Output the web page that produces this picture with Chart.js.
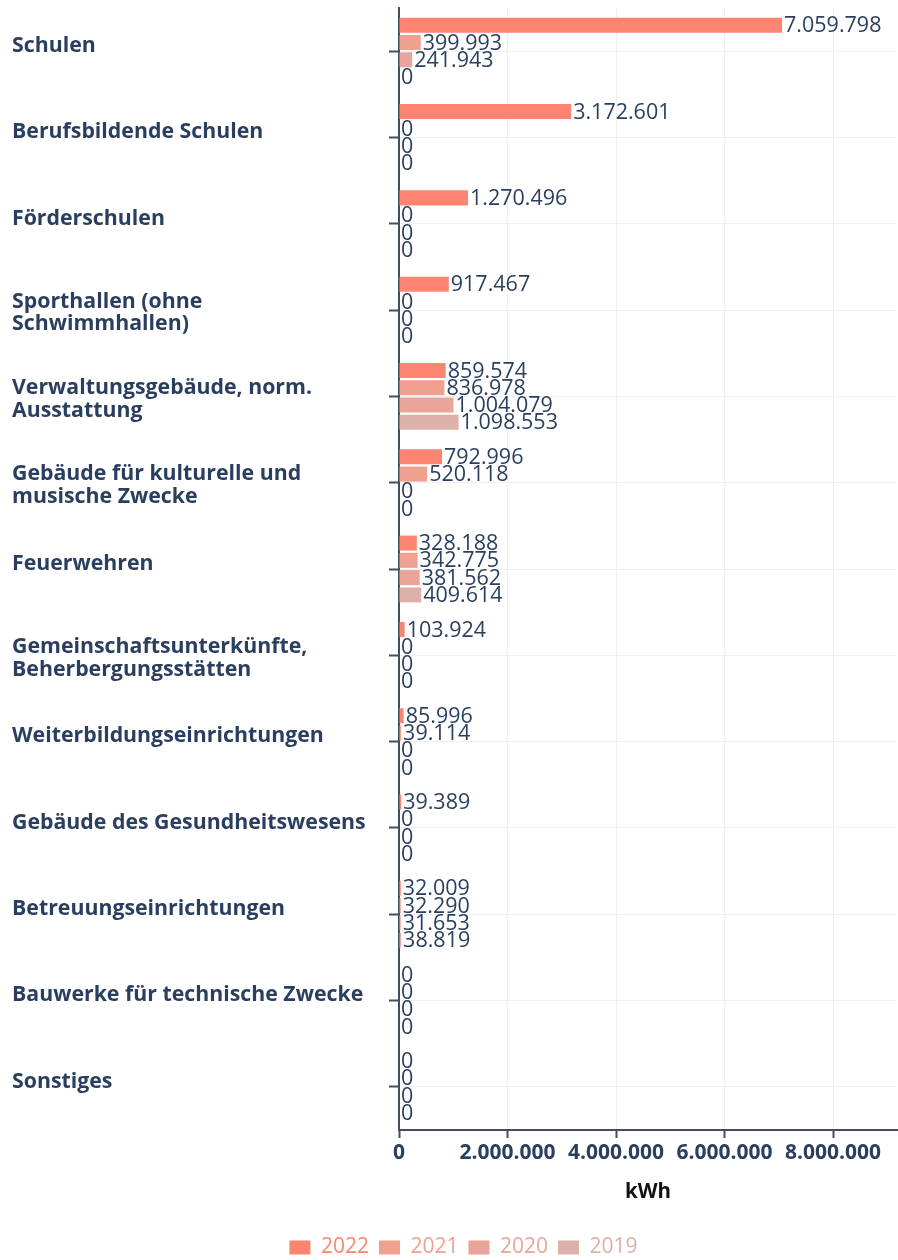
<!DOCTYPE html>
<html lang="de">
<head>
  <meta charset="UTF-8">
  <title>Energieverbrauch nach Gebäudeart</title>
  <script src="https://cdn.jsdelivr.net/npm/chart.js"></script>
  <style>
    html, body {
      margin: 0;
      padding: 0;
      background: #fff;
    }
    #wrap {
      width: 898px;
      height: 1260px;
    }
  </style>
</head>
<body>
  <div id="wrap"><canvas id="chart"></canvas></div>

  <script>
    // categories (multi-line labels as arrays)
    const categories = [
      'Schulen',
      'Berufsbildende Schulen',
      'Förderschulen',
      ['Sporthallen (ohne', 'Schwimmhallen)'],
      ['Verwaltungsgebäude, norm.', 'Ausstattung'],
      ['Gebäude für kulturelle und', 'musische Zwecke'],
      'Feuerwehren',
      ['Gemeinschaftsunterkünfte,', 'Beherbergungsstätten'],
      'Weiterbildungseinrichtungen',
      'Gebäude des Gesundheitswesens',
      'Betreuungseinrichtungen',
      'Bauwerke für technische Zwecke',
      'Sonstiges'
    ];

    const years = ['2022', '2021', '2020', '2019'];

    const values2022 = [7059798, 3172601, 1270496, 917467, 859574, 792996, 328188, 103924, 85996, 39389, 32009, 0, 0];
    const values2021 = [399993, 0, 0, 0, 836978, 520118, 342775, 0, 39114, 0, 32290, 0, 0];
    const values2020 = [241943, 0, 0, 0, 1004079, 0, 381562, 0, 0, 0, 31653, 0, 0];
    const values2019 = [0, 0, 0, 0, 1098553, 0, 409614, 0, 0, 0, 38819, 0, 0];

    const xTicks = [0, 2000000, 4000000, 6000000, 8000000];

    const seriesColors = ['#fe8472', '#efa08f', '#e9a597', '#ddb0a9'];
    const textColor = '#2a3f5f';
    const axisColor = '#444c5e';
    const gridColor = '#eef0f4';

    function fmt(v) {
      return Math.round(v).toString().replace(/\B(?=(\d{3})+(?!\d))/g, '.');
    }

    // draw the value next to every bar end
    const barValueLabels = {
      id: 'barValueLabels',
      afterDatasetsDraw(chart) {
        const c = chart.ctx;
        c.save();
        c.font = '21.5px "Open Sans"';
        c.fillStyle = textColor;
        c.textAlign = 'left';
        c.textBaseline = 'middle';
        chart.data.datasets.forEach((ds, i) => {
          const meta = chart.getDatasetMeta(i);
          meta.data.forEach((bar, j) => {
            c.fillText(fmt(ds.data[j]), bar.x + 2, bar.y + 1);
          });
        });
        c.restore();
      }
    };

    // legend in the original sits a little right of the page centre
    const legendShift = {
      id: 'legendShift',
      afterLayout(chart) {
        if (chart.legend) chart.legend.left += 18;
      }
    };

    const allSeries = [values2022, values2021, values2020, values2019];

    const chart = new Chart(document.getElementById('chart'), {
      type: 'bar',
      data: {
        labels: categories,
        datasets: years.map((y, i) => ({
          label: y,
          data: allSeries[i],
          backgroundColor: seriesColors[i],
          borderWidth: 0,
          categoryPercentage: 0.8,
          barPercentage: 0.87
        }))
      },
      options: {
        indexAxis: 'y',
        responsive: true,
        maintainAspectRatio: false,
        animation: false,
        layout: {
          padding: { left: 12, right: 1, top: 8, bottom: -8 }
        },
        plugins: {
          tooltip: { enabled: false },
          legend: {
            position: 'bottom',
            align: 'center',
            labels: {
              boxWidth: 21,
              boxHeight: 14,
              padding: 10,
              font: { family: 'Open Sans', size: 21 },
              generateLabels(chart) {
                return chart.data.datasets.map((ds, i) => ({
                  text: ds.label,
                  fillStyle: ds.backgroundColor,
                  strokeStyle: ds.backgroundColor,
                  lineWidth: 0,
                  fontColor: ds.backgroundColor,
                  hidden: false,
                  datasetIndex: i
                }));
              }
            }
          }
        },
        scales: {
          x: {
            type: 'linear',
            min: 0,
            max: 9177737,
            afterBuildTicks(scale) {
              scale.ticks = xTicks.map(v => ({ value: v }));
            },
            afterFit(scale) {
              scale.height = 97;
            },
            ticks: {
              includeBounds: false,
              color: textColor,
              padding: 2,
              font: { family: 'Open Sans', size: 21, weight: 'bold' },
              callback: v => fmt(v)
            },
            grid: {
              color: gridColor,
              tickColor: axisColor,
              tickLength: 8,
              tickWidth: 2
            },
            border: { color: axisColor, width: 2 },
            title: {
              display: true,
              text: 'kWh',
              color: '#111',
              padding: { top: 10, bottom: 23 },
              font: { family: 'Open Sans', size: 20.5, weight: 'bold' }
            }
          },
          y: {
            afterFit(scale) {
              scale.width = 387;
              scale.paddingTop = 0;
              scale.paddingBottom = 0;
            },
            ticks: {
              crossAlign: 'far',
              color: textColor,
              labelOffset: 3,
              // single-line labels sit a bit above the tick, two-line ones are centred
              callback: (v, i) => Array.isArray(categories[i]) ? categories[i] : [categories[i], ''],
              font: ctx => ({
                family: 'Open Sans',
                size: 21.3,
                weight: 'bold',
                lineHeight: Array.isArray(categories[ctx.index]) ? 1.06 : 0.78
              })
            },
            grid: {
              offset: false,
              color: gridColor,
              tickColor: axisColor,
              tickLength: 10,
              tickWidth: 2
            },
            border: { color: axisColor, width: 2 }
          }
        }
      },
      plugins: [barValueLabels, legendShift]
    });
  </script>
</body>
</html>
